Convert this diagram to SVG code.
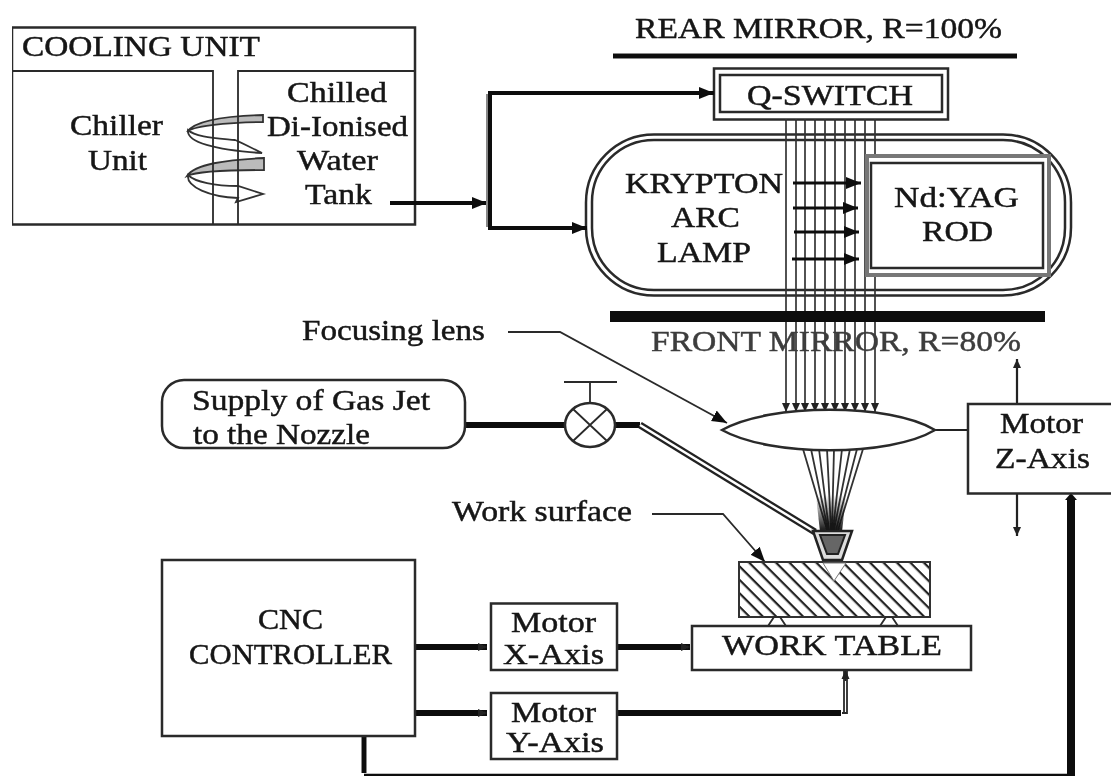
<svg xmlns="http://www.w3.org/2000/svg" width="1111" height="778" viewBox="0 0 1111 778">
<style>
text{font-family:"Liberation Serif","Times New Roman",serif;fill:#141414;font-size:30px;text-anchor:start;stroke:#141414;stroke-width:.45px}
.b{fill:#fff;stroke:#2a2a2a;stroke-width:2.5}
.l{fill:none;stroke:#2a2a2a;stroke-width:1.8}
.t{fill:none;stroke:#111;stroke-width:6}
.r{fill:none;stroke:#333;stroke-width:1.7}
.g{fill:#3c3c3c;stroke:#3c3c3c}
</style>
<defs>
<marker id="a" markerUnits="userSpaceOnUse" markerWidth="16" markerHeight="14" refX="15" refY="7" orient="auto"><path d="M0 1L15 7L0 13Z" fill="#111"/></marker>
<marker id="s" markerUnits="userSpaceOnUse" markerWidth="10" markerHeight="10" refX="9" refY="5" orient="auto"><path d="M0 1L9 5L0 9Z" fill="#222"/></marker>
<pattern id="h" width="9.500" height="9.500" patternUnits="userSpaceOnUse" patternTransform="rotate(45)"><rect width="9.500" height="9.500" fill="#fff"/><rect width="9.500" height="2.200" fill="#222"/></pattern>
<linearGradient id="f" x1="0" y1="0" x2="0" y2="1"><stop offset="0" stop-color="#111" stop-opacity="0"/><stop offset="1" stop-color="#111"/></linearGradient>
<filter id="blur" x="0" y="0" width="100%" height="100%"><feGaussianBlur stdDeviation=".45"/></filter>
</defs>
<rect width="1111" height="778" fill="#fff"/>
<g filter="url(#blur)">
<g id="cooling-unit">
<rect class="b" x="12" y="27.500" width="403" height="197"/>
<g stroke="#333" stroke-width="1.800">
<path d="M188 130C186 142 215 150 262 153C250 147 240 142 235 140C215 138 195 137 188 130Z" fill="#fff"/>
<path d="M263 115C225 116 195 120 187 132C190 127 225 122 263 122Z" fill="#bbb"/>
<path d="M188 175C186 187 210 197 238 198L236 202L263 194L238 186C215 186 195 182 188 175Z" fill="#fff"/>
<path d="M264 158C225 160 195 164 187 176C195 172 225 170 264 170Z" fill="#bbb"/>
</g>
<path class="l" d="M12 71H213V224M238 224V71H415"/>
<text x="22" y="56" textLength="238" lengthAdjust="spacingAndGlyphs">COOLING UNIT</text>
<text x="70" y="135" textLength="93" lengthAdjust="spacingAndGlyphs">Chiller</text>
<text x="88" y="170" textLength="59" lengthAdjust="spacingAndGlyphs">Unit</text>
<text x="287" y="102" textLength="100" lengthAdjust="spacingAndGlyphs">Chilled</text>
<text x="267" y="136" textLength="141" lengthAdjust="spacingAndGlyphs">Di-Ionised</text>
<text x="297" y="170" textLength="81" lengthAdjust="spacingAndGlyphs">Water</text>
<text x="305" y="204" textLength="67" lengthAdjust="spacingAndGlyphs">Tank</text>
</g>
<g id="rear-mirror"><text x="635" y="38" textLength="367" lengthAdjust="spacingAndGlyphs">REAR MIRROR, R=100%</text><path d="M613 56H1017" stroke="#111" stroke-width="5"/></g>
<g id="q-switch"><rect class="b" x="714" y="68.500" width="234" height="51" stroke-width="3.500"/><rect class="b" x="720" y="75" width="222" height="37"/><text x="747" y="105" textLength="166" lengthAdjust="spacingAndGlyphs">Q-SWITCH</text></g>
<g id="lamp-housing"><rect class="b" x="586" y="134.500" width="485" height="161" rx="68" stroke-width="2.500"/><rect class="b" x="592" y="140" width="473" height="150" rx="62" stroke-width="2"/><text x="625" y="193" textLength="158" lengthAdjust="spacingAndGlyphs">KRYPTON</text><text x="671" y="227" textLength="69" lengthAdjust="spacingAndGlyphs">ARC</text><text x="657" y="262" textLength="94" lengthAdjust="spacingAndGlyphs">LAMP</text></g>
<g id="connectors">
<path class="r" d="M786 119V412" marker-end="url(#s)"/><path class="r" d="M796 119V412" marker-end="url(#s)"/><path class="r" d="M805 119V412" marker-end="url(#s)"/><path class="r" d="M815 119V412" marker-end="url(#s)"/><path class="r" d="M825 119V412" marker-end="url(#s)"/><path class="r" d="M835 119V412" marker-end="url(#s)"/><path class="r" d="M845 119V412" marker-end="url(#s)"/><path class="r" d="M855 119V412" marker-end="url(#s)"/><path class="r" d="M865 119V412" marker-end="url(#s)"/><path class="r" d="M875 119V412" marker-end="url(#s)"/>
<g stroke="#111" stroke-width="3" fill="none">
<path d="M793 183H861" marker-end="url(#a)"/><path d="M793 208H858" marker-end="url(#a)"/><path d="M794 232H859" marker-end="url(#a)"/><path d="M792 259H859" marker-end="url(#a)"/>
<path d="M390 203H487" marker-end="url(#a)" stroke-width="4"/>
<path d="M490 228V93H714" stroke-width="4" marker-end="url(#a)"/>
<path d="M488 228H587" stroke-width="4" marker-end="url(#a)"/>
<path d="M487 227V94" stroke="#888" stroke-width="2"/>
</g>
<path class="l" d="M508 332H560L727 423" marker-end="url(#a)"/>
<path class="l" d="M652 514H723L765 562" marker-end="url(#a)"/>
<path d="M465 425H566M615 425H640" stroke="#111" stroke-width="6"/>
<path d="M640 425L815 532" stroke="#222" stroke-width="7" fill="none"/><path d="M640 425L815 532" stroke="#fff" stroke-width="2.500" fill="none"/>
<path d="M935 430H968" stroke="#222" stroke-width="2"/>
<path d="M1017 404V359" stroke="#222" stroke-width="2.200" marker-end="url(#s)"/>
<path d="M1017 493V536" stroke="#222" stroke-width="2.200" marker-end="url(#s)"/>
<path d="M415 647H487" class="t" marker-end="url(#s)"/><path d="M617 647H690" class="t" marker-end="url(#s)"/>
<path d="M415 713H487" class="t" marker-end="url(#s)"/><path d="M617 713H841" class="t"/>
<path d="M842 713H847V671M844 713V671" class="l"/><path d="M845.500 681V670" stroke="#222" stroke-width="2" marker-end="url(#s)"/>
<path d="M364 736V773" stroke="#111" stroke-width="5"/>
<path d="M364 775H1071" stroke="#111" stroke-width="2.500" fill="none"/>
<path d="M1071 776V498" stroke="#111" stroke-width="8"/>
<path d="M1065 500L1071 493L1077 500Z" fill="#111"/>
</g>
<g id="focus-beams" stroke="#333" stroke-width="1.800" fill="none">
<path d="M803 449L827 530M811 449L828 530M819 449L829 530M827 449L831 530M834 449L832 530M842 449L833 530M850 449L834 530M857 449L836 530M863 449L838 530"/>
</g>
<g id="lens"><path class="b" d="M722 430C770 403 890 403 935 430C890 457 770 457 722 430Z" stroke-width="2"/></g>
<g id="rod"><rect x="867" y="156" width="182" height="119" fill="#fff" stroke="#777" stroke-width="4"/><rect class="b" x="871" y="163" width="172" height="105"/><text x="894" y="207" textLength="125" lengthAdjust="spacingAndGlyphs">Nd:YAG</text><text x="922" y="241" textLength="71" lengthAdjust="spacingAndGlyphs">ROD</text></g>
<g id="front-mirror"><path d="M610 316.500H1045" stroke="#0a0a0a" stroke-width="11"/><text class="g" x="651" y="351" textLength="370" lengthAdjust="spacingAndGlyphs">FRONT MIRROR, R=80%</text></g>
<g id="focus-tip"><path d="M816 495H846L842 532H820Z" fill="url(#f)"/><path d="M813 531H852L842 560H823Z" fill="#ddd" stroke="#222" stroke-width="2.500"/><path d="M820 535H845L838 554H827Z" fill="#666" stroke="#222" stroke-width="2"/></g>
<g id="gas-supply"><rect class="b" x="162" y="380" width="303" height="68" rx="22"/><text x="192" y="410" textLength="238" lengthAdjust="spacingAndGlyphs">Supply of Gas Jet</text><text x="193" y="444" textLength="177" lengthAdjust="spacingAndGlyphs">to the Nozzle</text></g>
<g id="valve"><path class="l" d="M564 382H617M590 382V425"/><ellipse class="b" cx="590" cy="425" rx="25" ry="22" stroke-width="2"/><path class="l" d="M573 409L607 441M607 409L573 441"/></g>
<g id="label-focus"><text x="302" y="340" textLength="183" lengthAdjust="spacingAndGlyphs">Focusing lens</text></g>
<g id="label-work"><text x="452" y="521" textLength="180" lengthAdjust="spacingAndGlyphs">Work surface</text></g>
<g id="workpiece"><rect x="739" y="562" width="191" height="55" fill="url(#h)" stroke="#333" stroke-width="2"/><path d="M823 563H846L834 581Z" fill="#fff" stroke="#777"/><path class="l" d="M768 626L774 617H780L786 626M880 626L886 617H892L898 626"/></g>
<g id="work-table"><rect class="b" x="692" y="626" width="279" height="44"/><text x="722" y="655" textLength="220" lengthAdjust="spacingAndGlyphs">WORK TABLE</text></g>
<g id="motor-x"><rect class="b" x="491" y="603.500" width="126" height="66.500"/><text x="511" y="632" textLength="85" lengthAdjust="spacingAndGlyphs">Motor</text><text x="503" y="664" textLength="101" lengthAdjust="spacingAndGlyphs">X-Axis</text></g>
<g id="motor-y"><rect class="b" x="491" y="693" width="126" height="66"/><text x="511" y="722" textLength="85" lengthAdjust="spacingAndGlyphs">Motor</text><text x="506" y="752" textLength="98" lengthAdjust="spacingAndGlyphs">Y-Axis</text></g>
<g id="motor-z"><rect class="b" x="968" y="404" width="150" height="89.500"/><text x="1000" y="433" textLength="83" lengthAdjust="spacingAndGlyphs">Motor</text><text x="995" y="468" textLength="95" lengthAdjust="spacingAndGlyphs">Z-Axis</text></g>
<g id="cnc"><rect class="b" x="162" y="560" width="253" height="176"/><text x="258" y="629" textLength="65" lengthAdjust="spacingAndGlyphs">CNC</text><text x="189" y="664" textLength="203" lengthAdjust="spacingAndGlyphs">CONTROLLER</text></g>
</g>
</svg>
